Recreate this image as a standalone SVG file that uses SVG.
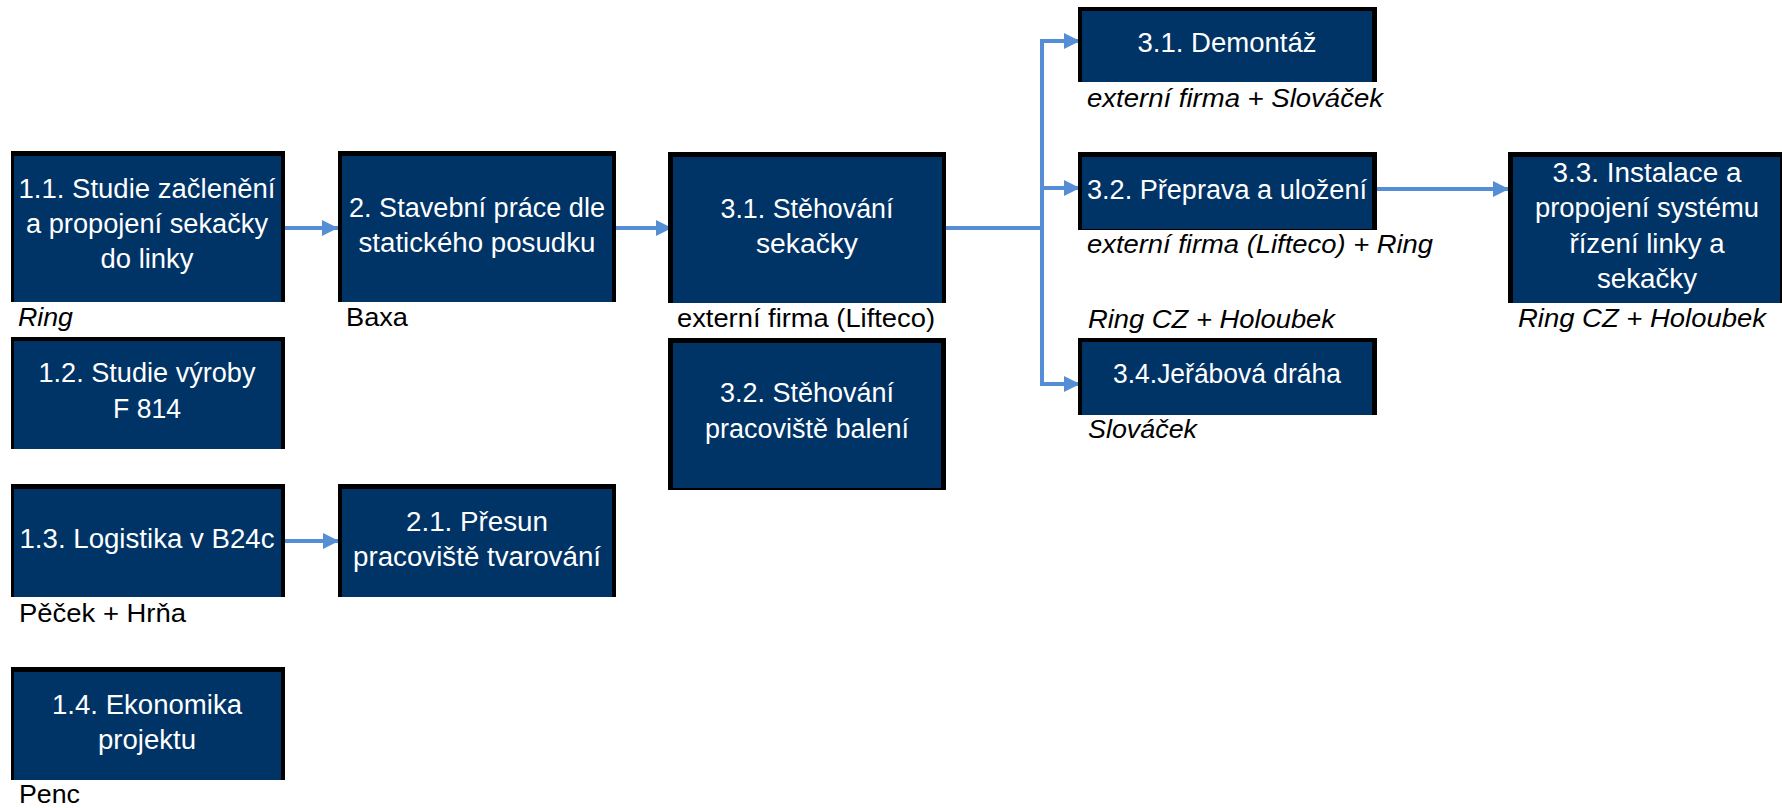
<svg xmlns="http://www.w3.org/2000/svg" width="1782" height="808" viewBox="0 0 1782 808">
<style>
.frame{fill:#000000}
.box{fill:#003366}
.nt{font-family:"Liberation Sans",Arial,sans-serif;font-size:27px;fill:#ffffff;text-anchor:middle}
.lb{font-family:"Liberation Sans",Arial,sans-serif;font-size:26px;fill:#000000}
.it{font-style:italic}
.con{stroke:#558ED5;stroke-width:4;fill:none}
</style>
<defs>
<marker id="ah" markerUnits="userSpaceOnUse" markerWidth="16" markerHeight="16" viewBox="0 0 16 16" refX="16" refY="8" orient="auto">
<path d="M0,0 L16,8 L0,16 Z" fill="#558ED5"/>
</marker>
</defs>
<rect width="1782" height="808" fill="#ffffff"/>

<g id="connectors">
<line class="con" x1="281" y1="228" x2="338" y2="228" marker-end="url(#ah)"/>
<line class="con" x1="612" y1="228" x2="672" y2="228" marker-end="url(#ah)"/>
<polyline class="con" points="942,228 1042,228"/>
<polyline class="con" points="1042,41 1042,384"/>
<line class="con" x1="1040" y1="41" x2="1080" y2="41" marker-end="url(#ah)"/>
<line class="con" x1="1040" y1="188" x2="1080" y2="188" marker-end="url(#ah)"/>
<line class="con" x1="1040" y1="384" x2="1080" y2="384" marker-end="url(#ah)"/>
<line class="con" x1="1372" y1="189" x2="1509" y2="189" marker-end="url(#ah)"/>
<line class="con" x1="281" y1="541" x2="339" y2="541" marker-end="url(#ah)"/>
</g>

<g id="n11">
<rect class="frame" x="11" y="151" width="274" height="151"/>
<rect class="box" x="14" y="156" width="267" height="146"/>
<text class="nt" x="147" y="198" textLength="257" lengthAdjust="spacingAndGlyphs">1.1. Studie začlenění</text>
<text class="nt" x="147" y="233" textLength="242" lengthAdjust="spacingAndGlyphs">a propojení sekačky</text>
<text class="nt" x="147" y="268" textLength="93" lengthAdjust="spacingAndGlyphs">do linky</text>
<text class="lb it" x="18" y="326" textLength="55" lengthAdjust="spacingAndGlyphs">Ring</text>
</g>

<g id="n12">
<rect class="frame" x="11" y="337" width="274" height="112"/>
<rect class="box" x="14" y="341" width="267" height="108"/>
<text class="nt" x="147" y="382" textLength="217" lengthAdjust="spacingAndGlyphs">1.2. Studie výroby</text>
<text class="nt" x="147" y="418" textLength="68" lengthAdjust="spacingAndGlyphs">F 814</text>
</g>

<g id="n13">
<rect class="frame" x="11" y="484" width="274" height="113"/>
<rect class="box" x="14" y="489" width="267" height="108"/>
<text class="nt" x="147" y="548" textLength="255" lengthAdjust="spacingAndGlyphs">1.3. Logistika v B24c</text>
<text class="lb" x="19" y="622" textLength="167" lengthAdjust="spacingAndGlyphs">Pěček + Hrňa</text>
</g>

<g id="n14">
<rect class="frame" x="11" y="667" width="274" height="113"/>
<rect class="box" x="14" y="672" width="267" height="108"/>
<text class="nt" x="147" y="714" textLength="190" lengthAdjust="spacingAndGlyphs">1.4. Ekonomika</text>
<text class="nt" x="147" y="749" textLength="98" lengthAdjust="spacingAndGlyphs">projektu</text>
<text class="lb" x="19" y="803" textLength="61" lengthAdjust="spacingAndGlyphs">Penc</text>
</g>

<g id="n2">
<rect class="frame" x="338" y="151" width="278" height="151"/>
<rect class="box" x="342" y="156" width="270" height="146"/>
<text class="nt" x="477" y="217" textLength="256" lengthAdjust="spacingAndGlyphs">2. Stavební práce dle</text>
<text class="nt" x="477" y="252" textLength="237" lengthAdjust="spacingAndGlyphs">statického posudku</text>
<text class="lb" x="346" y="326" textLength="62" lengthAdjust="spacingAndGlyphs">Baxa</text>
</g>

<g id="n21">
<rect class="frame" x="338" y="484" width="278" height="113"/>
<rect class="box" x="342" y="489" width="270" height="108"/>
<text class="nt" x="477" y="531" textLength="142" lengthAdjust="spacingAndGlyphs">2.1. Přesun</text>
<text class="nt" x="477" y="566" textLength="248" lengthAdjust="spacingAndGlyphs">pracoviště tvarování</text>
</g>

<g id="n31s">
<rect class="frame" x="668" y="152" width="278" height="151"/>
<rect class="box" x="673" y="157" width="269" height="146"/>
<text class="nt" x="807" y="218" textLength="173" lengthAdjust="spacingAndGlyphs">3.1. Stěhování</text>
<text class="nt" x="807" y="253" textLength="102" lengthAdjust="spacingAndGlyphs">sekačky</text>
<text class="lb" x="677" y="327" textLength="258" lengthAdjust="spacingAndGlyphs">externí firma (Lifteco)</text>
</g>

<g id="n32s">
<rect class="frame" x="668" y="338" width="278" height="152"/>
<rect class="box" x="673" y="343" width="268" height="145"/>
<text class="nt" x="807" y="402" textLength="174" lengthAdjust="spacingAndGlyphs">3.2. Stěhování</text>
<text class="nt" x="807" y="438" textLength="204" lengthAdjust="spacingAndGlyphs">pracoviště balení</text>
</g>

<g id="n31d">
<rect class="frame" x="1078" y="7" width="299" height="75"/>
<rect class="box" x="1082" y="11" width="290" height="71"/>
<text class="nt" x="1227" y="52" textLength="179" lengthAdjust="spacingAndGlyphs">3.1. Demontáž</text>
<text class="lb it" x="1087" y="107" textLength="296" lengthAdjust="spacingAndGlyphs">externí firma + Slováček</text>
</g>

<g id="n32p">
<rect class="frame" x="1078" y="152" width="299" height="78"/>
<rect class="box" x="1082" y="157" width="290" height="72"/>
<text class="nt" x="1227" y="199" textLength="280" lengthAdjust="spacingAndGlyphs">3.2. Přeprava a uložení</text>
<text class="lb it" x="1087" y="253" textLength="346" lengthAdjust="spacingAndGlyphs">externí firma (Lifteco) + Ring</text>
</g>

<g id="n34">
<text class="lb it" x="1088" y="328" textLength="247" lengthAdjust="spacingAndGlyphs">Ring CZ + Holoubek</text>
<rect class="frame" x="1078" y="338" width="299" height="77"/>
<rect class="box" x="1082" y="342" width="290" height="73"/>
<text class="nt" x="1227" y="383" textLength="228" lengthAdjust="spacingAndGlyphs">3.4.Jeřábová dráha</text>
<text class="lb it" x="1088" y="438" textLength="109" lengthAdjust="spacingAndGlyphs">Slováček</text>
</g>

<g id="n33">
<rect class="frame" x="1508" y="152" width="274" height="151"/>
<rect class="box" x="1513" y="157" width="267" height="146"/>
<text class="nt" x="1647" y="182" textLength="189" lengthAdjust="spacingAndGlyphs">3.3. Instalace a</text>
<text class="nt" x="1647" y="217" textLength="224" lengthAdjust="spacingAndGlyphs">propojení systému</text>
<text class="nt" x="1647" y="253" textLength="155" lengthAdjust="spacingAndGlyphs">řízení linky a</text>
<text class="nt" x="1647" y="288" textLength="100" lengthAdjust="spacingAndGlyphs">sekačky</text>
<text class="lb it" x="1518" y="327" textLength="248" lengthAdjust="spacingAndGlyphs">Ring CZ + Holoubek</text>
</g>
</svg>
